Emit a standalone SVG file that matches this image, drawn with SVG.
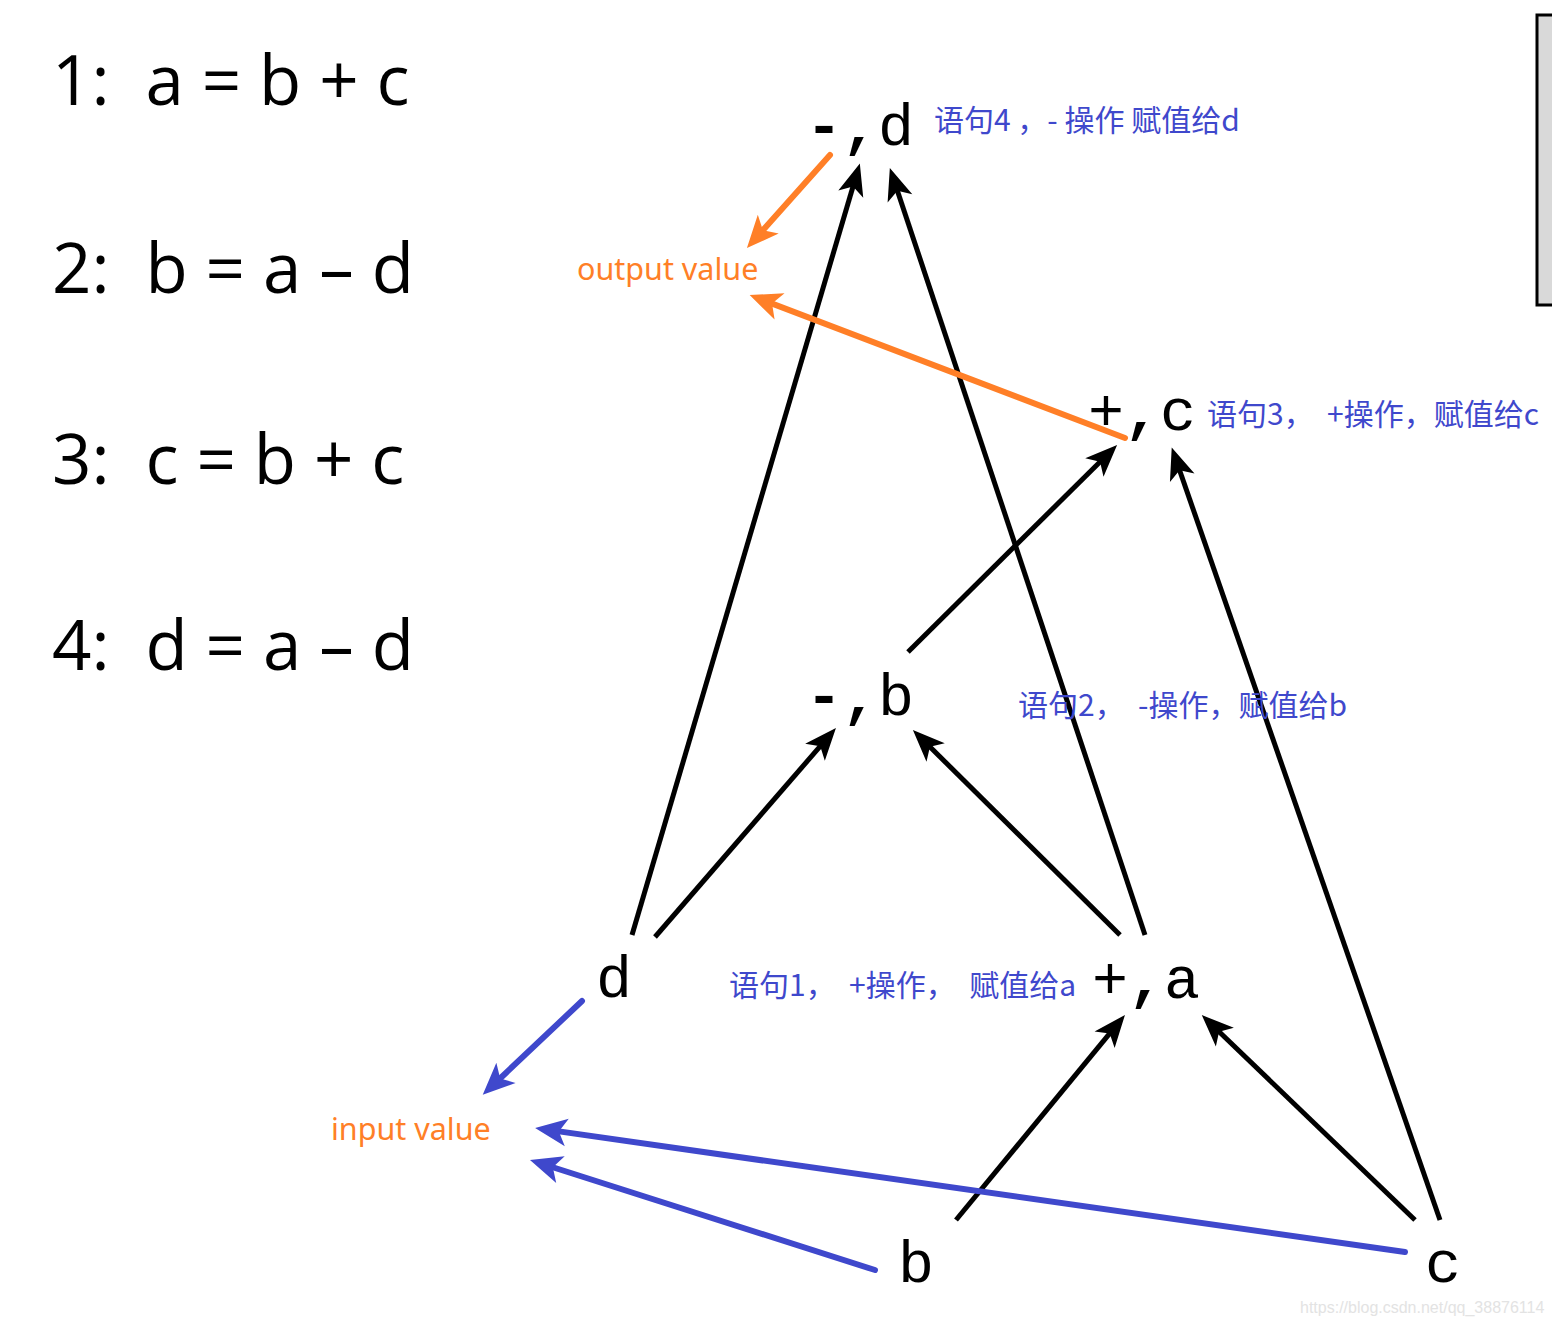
<svg xmlns="http://www.w3.org/2000/svg" width="1552" height="1325" viewBox="0 0 1552 1325">
<style>
text{white-space:pre}
.f{font-family:"Open Sans","Noto Sans",sans-serif;font-size:69px;fill:#000}
.n{font-family:"Liberation Mono","Courier New",monospace;font-size:60px;fill:#000}
.n tspan{font-weight:bold}
.lb{font-family:"Noto Sans CJK SC",sans-serif;font-size:30px;fill:#3f48cc}
.lo{font-family:"Noto Sans","Noto Sans CJK SC",sans-serif;font-size:30.5px;fill:#ff7f27}
.k{stroke:#000;stroke-width:5;fill:none}
.o{stroke:#ff7f27;stroke-width:6;fill:none;stroke-linecap:round}
.b{stroke:#3f48cc;stroke-width:6;fill:none;stroke-linecap:round}
</style>
<defs>
<marker id="ak" viewBox="-30 -15 42 30" refX="0" refY="0" markerUnits="userSpaceOnUse" markerWidth="42" markerHeight="30" orient="auto"><path d="M10,0 L-22,-13 L-14,0 L-22,13 Z" fill="#000"/></marker>
<marker id="ao" viewBox="-30 -15 42 30" refX="0" refY="0" markerUnits="userSpaceOnUse" markerWidth="42" markerHeight="30" orient="auto"><path d="M10,0 L-22,-14 L-14,0 L-22,14 Z" fill="#ff7f27"/></marker>
<marker id="ab" viewBox="-30 -15 42 30" refX="0" refY="0" markerUnits="userSpaceOnUse" markerWidth="42" markerHeight="30" orient="auto"><path d="M10,0 L-22,-14 L-14,0 L-22,14 Z" fill="#3f48cc"/></marker>
</defs>
<rect width="1552" height="1325" fill="#fff"/>
<g id="formulas">
<text class="f" x="52" y="105">1:  a = b + c</text>
<text class="f" x="52" y="293">2:  b = a – d</text>
<text class="f" x="52" y="484">3:  c = b + c</text>
<text class="f" x="52" y="670">4:  d = a – d</text>
</g>
<g id="panel"><rect x="1537" y="15" width="30" height="290" fill="#d9d9d9" stroke="#000" stroke-width="3"/></g>
<g id="connectors">
<line class="k" x1="632" y1="935" x2="857" y2="173" marker-end="url(#ak)"/>
<line class="k" x1="1145" y1="935" x2="893" y2="177.5" marker-end="url(#ak)"/>
<line class="k" x1="908" y1="652" x2="1110" y2="452" marker-end="url(#ak)"/>
<line class="k" x1="1440" y1="1220" x2="1175" y2="457" marker-end="url(#ak)"/>
<line class="k" x1="655" y1="937" x2="829.4" y2="735.6" marker-end="url(#ak)"/>
<line class="k" x1="1120" y1="935" x2="920" y2="737" marker-end="url(#ak)"/>
<line class="k" x1="956" y1="1220" x2="1118.6" y2="1022.7" marker-end="url(#ak)"/>
<line class="k" x1="1415" y1="1220" x2="1209" y2="1022" marker-end="url(#ak)"/>
<line class="o" x1="830" y1="155" x2="753.6" y2="240.6" marker-end="url(#ao)"/>
<line class="o" x1="1125" y1="438" x2="759" y2="298.6" marker-end="url(#ao)"/>
<line class="b" x1="582" y1="1001" x2="490" y2="1088" marker-end="url(#ab)"/>
<line class="b" x1="1405" y1="1252" x2="545" y2="1129.4" marker-end="url(#ab)"/>
<line class="b" x1="875" y1="1270" x2="539.5" y2="1163" marker-end="url(#ab)"/>
</g>
<g id="node-sub-d"><text class="n" x="806" y="145"><tspan>-,</tspan>d</text><text class="lb" x="934" y="131">语句4 ，- 操作 赋值给d</text></g>
<g id="node-add-c"><text class="n" x="1088" y="430">+<tspan>,</tspan>c</text><text class="lb" x="1207" y="425">语句3，  +操作，赋值给c</text></g>
<g id="node-sub-b"><text class="n" x="806" y="715"><tspan>-,</tspan>b</text><text class="lb" x="1018" y="716">语句2，  -操作，赋值给b</text></g>
<g id="node-add-a"><text class="n" x="1092" y="998">+<tspan>,</tspan>a</text><text class="lb" x="729" y="996">语句1，  +操作，  赋值给a</text></g>
<g id="node-d"><text class="n" x="596" y="997">d</text></g>
<g id="node-b"><text class="n" x="898" y="1282">b</text></g>
<g id="node-c"><text class="n" x="1425" y="1282">c</text></g>
<g id="output"><text class="lo" x="577" y="280">output value</text></g>
<g id="input"><text class="lo" x="331" y="1140">input value</text></g>
<text x="1300" y="1313" font-family="Liberation Sans,sans-serif" font-size="16" fill="#e3e3e3">https://blog.csdn.net/qq_38876114</text>
</svg>
